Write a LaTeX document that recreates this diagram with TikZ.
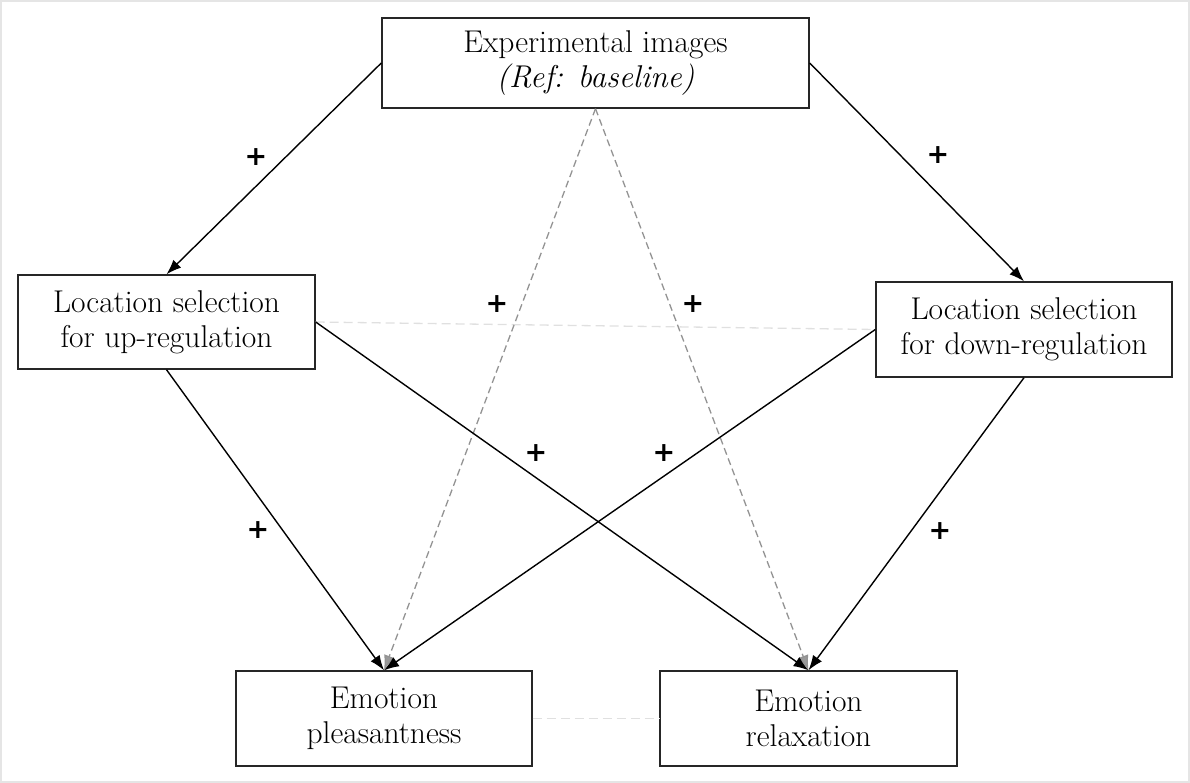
\documentclass[tikz,border=0pt]{standalone}
\usepackage{fontspec}
\newfontfamily\signfont{DejaVu Sans}
\usetikzlibrary{arrows.meta}
\begin{document}
\begin{tikzpicture}[x=1pt,y=-1pt,
  box/.style={draw=black!85,line width=1.4pt,fill=white,align=center,inner sep=0pt,
    font=\fontsize{31.5}{35}\selectfont},
  link/.style={line width=1.4pt,-{Latex[length=15pt,width=11pt]}},
  reflink/.style={line width=1.3pt,gray!85,dash pattern=on 7pt off 4pt,
    -{Latex[length=15pt,width=11pt,fill=gray!80]}},
  corr/.style={line width=1.3pt,black!12,dash pattern=on 9pt off 5pt},
  sign/.style={font=\signfont\bfseries\fontsize{27}{27}\selectfont,inner sep=0pt}]
  \useasboundingbox (0,0) rectangle (1190,783);
  % thin outer frame
  \draw[black!10,line width=2.5pt] (1,1) rectangle (1189,782);

  % boxes
  \node[box,minimum width=427pt,minimum height=90pt] (img) at (595.5,63)
    {Experimental images\\{\itshape (Ref: baseline)}};
  \node[box,minimum width=297pt,minimum height=94pt] (up) at (166.5,322)
    {Location selection\\for up-regulation};
  \node[box,minimum width=296pt,minimum height=95pt] (down) at (1024,329.5)
    {Location selection\\for down-regulation};
  \node[box,minimum width=296pt,minimum height=95pt] (pleas) at (384,718.5)
    {Emotion\\pleasantness};
  \node[box,minimum width=297pt,minimum height=95pt] (relax) at (808.5,718.5)
    {Emotion\\relaxation};

  % correlations between the locations and between the outcomes
  \draw[corr] (up.east) -- (down.west);
  \draw[corr] (pleas.east) -- (relax.west);

  % reference paths from the image condition to the outcomes
  \draw[reflink] (img.south) -- (pleas.north);
  \draw[reflink] (img.south) -- (relax.north);

  % image condition to location selection
  \draw[link] (img.west) -- (up.north);
  \draw[link] (img.east) -- (down.north);

  % location selection to emotions
  \draw[link] (up.south) -- (pleas.north);
  \draw[link] (up.east) -- (relax.north);
  \draw[link] (down.west) -- (pleas.north);
  \draw[link] (down.south) -- (relax.north);

  % effect signs
  \node[sign] (s1) at (256,157) {+};
  \node[sign] (s2) at (938,155) {+};
  \node[sign] (s3) at (497,304) {+};
  \node[sign] (s4) at (693,304) {+};
  \node[sign] (s5) at (536,453) {+};
  \node[sign] (s6) at (664,453) {+};
  \node[sign] (s7) at (258,530) {+};
  \node[sign] (s8) at (940,531) {+};
\end{tikzpicture}
\end{document}
